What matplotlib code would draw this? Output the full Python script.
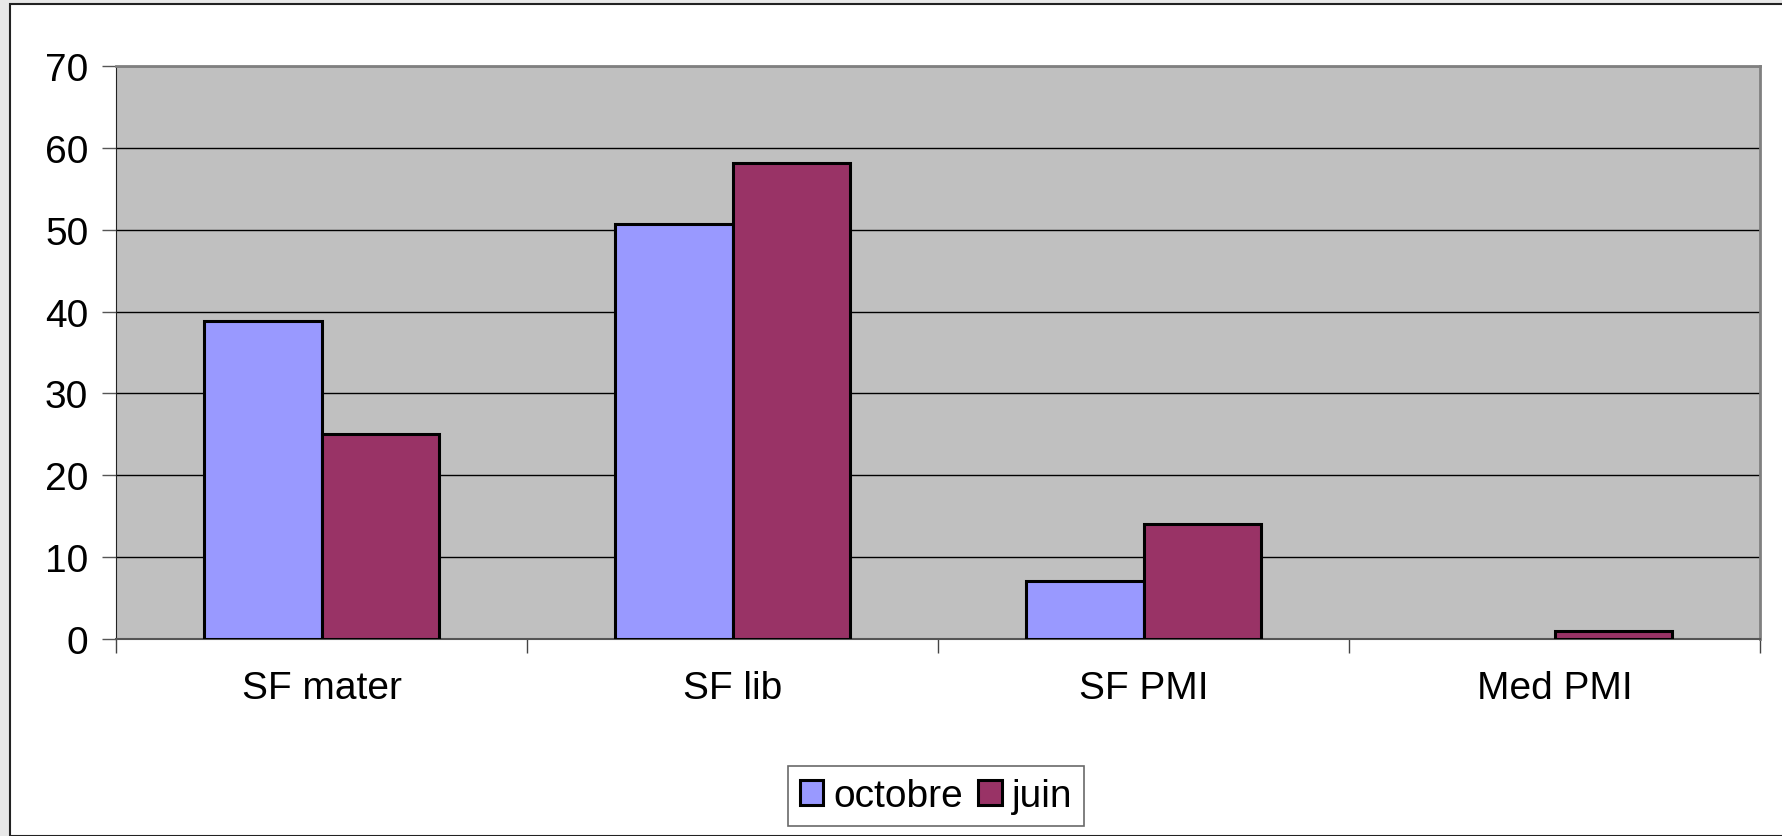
import numpy as np
import matplotlib.pyplot as plt
from matplotlib.patches import Rectangle

# données
categories = ['SF mater', 'SF lib', 'SF PMI', 'Med PMI']
octobre = [38.9, 50.7, 7.1, 0]
juin = [25, 58.2, 14, 1]
yticks = [0, 10, 20, 30, 40, 50, 60, 70]

W, H = 1782, 837
fig = plt.figure(figsize=(W / 100, H / 100), dpi=100)
fig.patch.set_facecolor('#e8e8e8')
plt.rcParams['font.family'] = ['Liberation Sans', 'DejaVu Sans']

# zone blanche du graphique avec son cadre
fig.patches.append(Rectangle((10 / W, 0), 1.0, 1 - 5 / H, transform=fig.transFigure,
                             facecolor='white', edgecolor='#222222', linewidth=1.5,
                             zorder=-10))

ax = fig.add_axes([116 / W, 1 - 640 / H, (1760 - 116) / W, (640 - 67) / H])
ax.set_facecolor('#c0c0c0')

x = np.arange(len(categories))
w = 1 / 3.5
# pas de contour pour les barres nulles
lw_oct = [2.2 if v > 0 else 0 for v in octobre]
lw_juin = [2.2 if v > 0 else 0 for v in juin]
ax.bar(x - w / 2, octobre, w, color='#9999ff', edgecolor='black', linewidth=lw_oct,
       label='octobre', zorder=3)
ax.bar(x + w / 2, juin, w, color='#993366', edgecolor='black', linewidth=lw_juin,
       label='juin', zorder=3)

ax.set_xlim(-0.5, len(categories) - 0.5)
ax.set_ylim(0, 70)
ax.set_yticks(yticks)
ax.yaxis.grid(True, color='black', linewidth=1)
ax.set_axisbelow(True)
ax.tick_params(axis='y', labelsize=28, length=10, width=1, color='#555555', pad=10)

# ticks de l'axe x entre les catégories
ax.set_xticks(np.arange(len(categories) + 1) - 0.5)
ax.set_xticklabels([])
ax.set_xticks(x, minor=True)
ax.set_xticklabels(categories, minor=True)
ax.tick_params(axis='x', which='major', length=10, width=1, color='#444444', direction='out')
ax.tick_params(axis='x', which='minor', length=0, labelsize=28, pad=22)

for side in ['top', 'right']:
    ax.spines[side].set_color('#808080')
    ax.spines[side].set_linewidth(2)
ax.spines['left'].set_color('#222222')
ax.spines['bottom'].set_color('#555555')
ax.spines['bottom'].set_linewidth(1.5)

leg = fig.legend(loc='center', bbox_to_anchor=(936 / W, 1 - 797 / H), ncol=2,
                 fontsize=28, frameon=True, fancybox=False, edgecolor='#444444',
                 handlelength=0.6, handleheight=0.6, handletextpad=0.25,
                 columnspacing=0.4, borderpad=0.3, borderaxespad=0)
leg.get_frame().set_linewidth(1.2)
for h in leg.legend_handles:
    h.set_linewidth(2.2)

fig.savefig('out.png', dpi=100, facecolor=fig.get_facecolor())
